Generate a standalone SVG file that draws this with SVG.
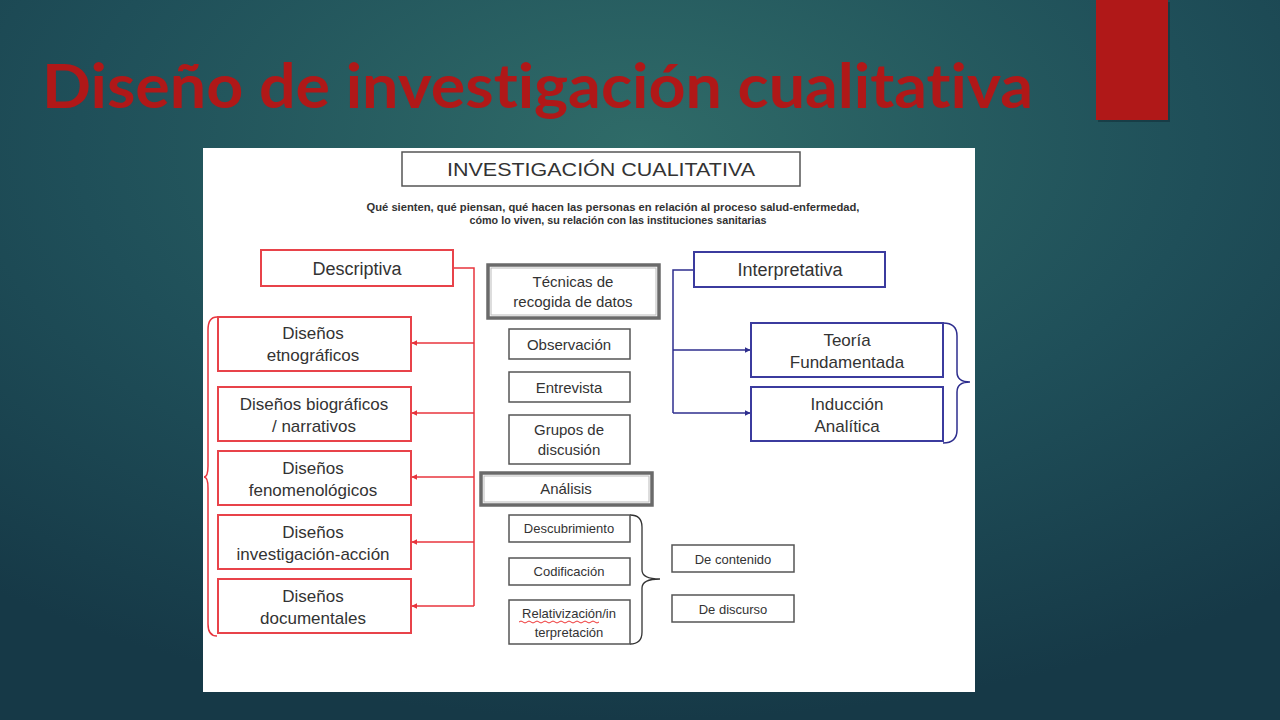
<svg xmlns="http://www.w3.org/2000/svg" width="1280" height="720" viewBox="0 0 1280 720">
<defs>
<radialGradient id="bg" cx="0.5" cy="0.2" r="0.8">
<stop offset="0" stop-color="#2f6b68"/>
<stop offset="0.55" stop-color="#1f4f59"/>
<stop offset="1" stop-color="#163947"/>
</radialGradient>
<marker id="ar" viewBox="0 0 10 10" refX="9" refY="5" markerWidth="6" markerHeight="6" orient="auto" markerUnits="userSpaceOnUse">
<path d="M0,0 L10,5 L0,10 z" fill="#e8343c"/>
</marker>
<marker id="ab" viewBox="0 0 10 10" refX="9" refY="5" markerWidth="6" markerHeight="6" orient="auto" markerUnits="userSpaceOnUse">
<path d="M0,0 L10,5 L0,10 z" fill="#2e2e8e"/>
</marker>
</defs>
<style>
.t{font-family:"Liberation Sans",Arial,sans-serif;fill:#333;text-anchor:middle}
.rb{fill:#fff;stroke:#e8434a;stroke-width:2}
.bb{fill:#fff;stroke:#3b3b9e;stroke-width:2}
.gb{fill:#fff;stroke:#555;stroke-width:1.5}
.gt{fill:#fff;stroke:#6a6a6a;stroke-width:3.5}
.rl{fill:none;stroke:#e8343c;stroke-width:1.5}
.bl{fill:none;stroke:#2e2e8e;stroke-width:1.5}
.f18{font-size:18px}
.f17{font-size:17px}
.f15{font-size:15px}
.f13{font-size:13px}
.ttl{font-family:Lato,"Noto Sans",sans-serif;font-weight:bold;font-size:62px;fill:#b01818;font-variant-ligatures:none;font-feature-settings:"liga" 0}
</style>
<rect width="1280" height="720" fill="url(#bg)"/>
<rect x="1098" y="2" width="72" height="120" fill="#0d2a33" opacity="0.5"/>
<rect x="1096" y="0" width="72" height="120" fill="#b01818"/>
<text x="42" y="108" class="ttl" textLength="991" lengthAdjust="spacingAndGlyphs">Diseño de investigación cualitativa</text>
<rect x="203" y="148" width="772" height="544" fill="#fff"/>

<g id="title-box">
<rect x="402" y="152" width="398" height="34" class="gb"/>
<text x="601" y="176" class="t" font-size="19" textLength="308" lengthAdjust="spacingAndGlyphs">INVESTIGACIÓN CUALITATIVA</text>
</g>
<g id="subtitle">
<text x="613" y="211" class="t" font-size="10.5" font-weight="bold" fill="#222" textLength="493" lengthAdjust="spacingAndGlyphs">Qué sienten, qué piensan, qué hacen las personas en relación al proceso salud-enfermedad,</text>
<text x="618" y="224" class="t" font-size="10.5" font-weight="bold" fill="#222" textLength="297" lengthAdjust="spacingAndGlyphs">cómo lo viven, su relación con las instituciones sanitarias</text>
</g>

<g id="connectors">
<path class="rl" d="M453,268 H474 V606"/>
<path class="rl" d="M474,343 H412" marker-end="url(#ar)"/>
<path class="rl" d="M474,413 H412" marker-end="url(#ar)"/>
<path class="rl" d="M474,477 H412" marker-end="url(#ar)"/>
<path class="rl" d="M474,542 H412" marker-end="url(#ar)"/>
<path class="rl" d="M474,606 H412" marker-end="url(#ar)"/>
<path class="bl" d="M694,270 H673 V413"/>
<path class="bl" d="M673,350 H750" marker-end="url(#ab)"/>
<path class="bl" d="M673,413 H750" marker-end="url(#ab)"/>
<path class="rl" d="M217,317 Q208,317 208,330 V466 Q208,477 204,477 Q208,477 208,488 V624 Q208,636 217,636"/>
<path class="bl" d="M943,323 Q957,323 957,336 V372 Q957,382 970,382 Q957,382 957,392 V430 Q957,443 943,443"/>
<path fill="none" stroke="#333" stroke-width="1.3" d="M630,515 Q642,515 642,527 V570 Q642,579 660,579 Q642,579 642,588 V632 Q642,644 630,644"/>
</g>

<g id="descriptiva">
<rect x="261" y="250" width="192" height="36" class="rb"/>
<text x="357" y="275" class="t f18">Descriptiva</text>
</g>
<g id="etnograficos">
<rect x="218" y="317" width="193" height="54" class="rb"/>
<text x="313" y="339" class="t f17">Diseños</text>
<text x="313" y="361" class="t f17">etnográficos</text>
</g>
<g id="biograficos">
<rect x="218" y="387" width="193" height="54" class="rb"/>
<text x="314" y="410" class="t f17">Diseños biográficos</text>
<text x="314" y="432" class="t f17">/ narrativos</text>
</g>
<g id="fenomenologicos">
<rect x="218" y="451" width="193" height="54" class="rb"/>
<text x="313" y="474" class="t f17">Diseños</text>
<text x="313" y="496" class="t f17">fenomenológicos</text>
</g>
<g id="investigacion-accion">
<rect x="218" y="515" width="193" height="54" class="rb"/>
<text x="313" y="538" class="t f17">Diseños</text>
<text x="313" y="560" class="t f17">investigación-acción</text>
</g>
<g id="documentales">
<rect x="218" y="579" width="193" height="54" class="rb"/>
<text x="313" y="602" class="t f17">Diseños</text>
<text x="313" y="624" class="t f17">documentales</text>
</g>

<g id="tecnicas">
<rect x="488" y="265" width="171" height="53" class="gt"/>
<rect x="491" y="268" width="165" height="47" fill="none" stroke="#bbb" stroke-width="1"/>
<text x="573" y="287" class="t f15">Técnicas de</text>
<text x="573" y="307" class="t f15">recogida de datos</text>
</g>
<g id="observacion">
<rect x="509" y="329" width="121" height="30" class="gb"/>
<text x="569" y="350" class="t f15">Observación</text>
</g>
<g id="entrevista">
<rect x="509" y="372" width="121" height="30" class="gb"/>
<text x="569" y="393" class="t f15">Entrevista</text>
</g>
<g id="grupos">
<rect x="509" y="415" width="121" height="49" class="gb"/>
<text x="569" y="435" class="t f15">Grupos de</text>
<text x="569" y="455" class="t f15">discusión</text>
</g>
<g id="analisis">
<rect x="481" y="473" width="171" height="32" class="gt"/>
<rect x="484" y="476" width="165" height="26" fill="none" stroke="#bbb" stroke-width="1"/>
<text x="566" y="494" class="t f15">Análisis</text>
</g>
<g id="descubrimiento">
<rect x="509" y="515" width="121" height="27" class="gb"/>
<text x="569" y="533" class="t f13">Descubrimiento</text>
</g>
<g id="codificacion">
<rect x="509" y="558" width="121" height="27" class="gb"/>
<text x="569" y="576" class="t f13">Codificación</text>
</g>
<g id="relativizacion">
<rect x="509" y="600" width="121" height="44" class="gb"/>
<text x="569" y="618" class="t f13">Relativización/in</text>
<text x="569" y="637" class="t f13">terpretación</text>
<path d="M519,622 q2,-2 4,0 t4,0 t4,0 t4,0 t4,0 t4,0 t4,0 t4,0 t4,0 t4,0 t4,0 t4,0 t4,0 t4,0 t4,0 t4,0 t4,0 t4,0 t4,0 t4,0" fill="none" stroke="#e33" stroke-width="1"/>
</g>
<g id="contenido">
<rect x="672" y="545" width="122" height="27" class="gb"/>
<text x="733" y="564" class="t f13">De contenido</text>
</g>
<g id="discurso">
<rect x="672" y="595" width="122" height="27" class="gb"/>
<text x="733" y="614" class="t f13">De discurso</text>
</g>

<g id="interpretativa">
<rect x="694" y="252" width="191" height="35" class="bb"/>
<text x="790" y="276" class="t f18">Interpretativa</text>
</g>
<g id="teoria">
<rect x="751" y="323" width="192" height="54" class="bb"/>
<text x="847" y="346" class="t f17">Teoría</text>
<text x="847" y="368" class="t f17">Fundamentada</text>
</g>
<g id="induccion">
<rect x="751" y="387" width="192" height="54" class="bb"/>
<text x="847" y="410" class="t f17">Inducción</text>
<text x="847" y="432" class="t f17">Analítica</text>
</g>
</svg>
